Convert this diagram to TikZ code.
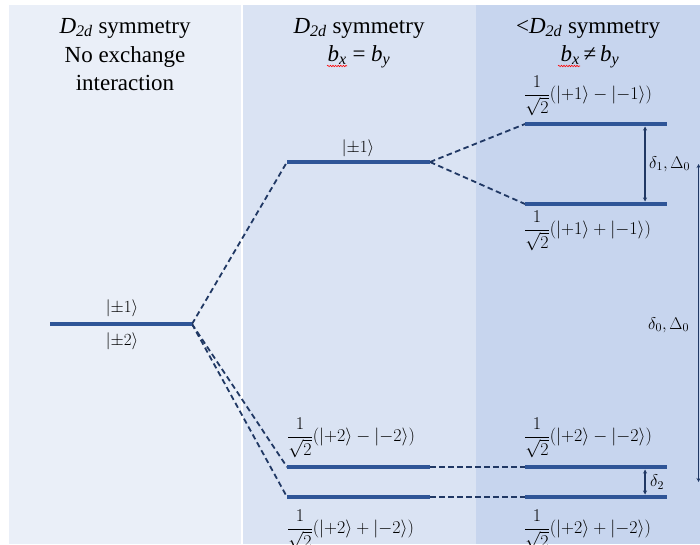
\RequirePackage{fix-cm}
\documentclass[tikz,border=0pt]{standalone}
\usepackage{amsmath}
\usepackage{fontspec}
\setmainfont{Liberation Serif}
\newfontfamily\hdfont{Liberation Serif}
\usetikzlibrary{arrows.meta,decorations.pathmorphing}
\definecolor{pA}{HTML}{EAEFF8}
\definecolor{pB}{HTML}{DAE3F3}
\definecolor{pC}{HTML}{C7D5EE}
\definecolor{lev}{HTML}{2F5597}
\definecolor{dsh}{HTML}{203864}
\newcommand\Dtd{\textit{D}\textsubscript{\textit{2d}}}
\newcommand\fr{\dfrac{1}{\sqrt{2}}}
\begin{document}
\begin{tikzpicture}[x=1pt,y=-1pt,
 level/.style={line width=4.5pt, draw=lev},
 conn/.style={draw=dsh, line width=1.8pt, dash pattern=on 5.5pt off 3.5pt},
 gap/.style={draw=dsh, line width=1.1pt, {Stealth[length=4pt,width=4pt]}-{Stealth[length=4pt,width=4pt]}},
 head/.style={font=\hdfont\fontsize{23}{28}\selectfont, inner sep=0pt, anchor=base},
 ket/.style={font=\fontsize{18}{21}\selectfont, inner sep=0pt, anchor=west},
 lab/.style={font=\fontsize{17}{20}\selectfont, inner sep=0pt},
 sq/.style={draw=red, line width=0.6pt, decorate, decoration={snake, amplitude=0.7pt, segment length=2.6pt}}]
\useasboundingbox (0,0) rectangle (700,544);
\fill[white] (0,0) rectangle (700,544);
\fill[pA] (9,5) rectangle (241,544);
\fill[pB] (243,5) rectangle (476,544);
\fill[pC] (476,5) rectangle (700,544);
% headers
\node[head] (h1a) at (125,33) {\Dtd\ symmetry};
\node[head] (h1b) at (125,62) {No exchange};
\node[head] (h1c) at (125,90) {interaction};
\node[head] (h2a) at (359,33) {\Dtd\ symmetry};
\node[head] (h2b) at (359,61) {\textit{b}\textsubscript{\textit{x}} = \textit{b}\textsubscript{\textit{y}}};
\node[head] (h3a) at (588,33) {<\Dtd\ symmetry};
\node[head] (h3b) at (590,61) {\textit{b}\textsubscript{\textit{x}}\,≠\,\textit{b}\textsubscript{\textit{y}}};
\draw[sq] (327,66) -- (347,66);
\draw[sq] (558,66) -- (580,66);
% level endpoints
\coordinate (a1) at (50,324); \coordinate (a2) at (192,324);
\coordinate (b1) at (287,162); \coordinate (b2) at (430,162);
\coordinate (c1) at (287,467); \coordinate (c2) at (430,467);
\coordinate (d1) at (287,497); \coordinate (d2) at (430,497);
\coordinate (e1) at (525,124); \coordinate (e2) at (667,124);
\coordinate (f1) at (525,204); \coordinate (f2) at (667,204);
\coordinate (g1) at (525,467); \coordinate (g2) at (667,467);
\coordinate (h1) at (525,497); \coordinate (h2) at (667,497);
% connectors
\draw[conn] (a2) -- (b1);
\draw[conn] (a2) -- (c1);
\draw[conn] (a2) -- (d1);
\draw[conn] (b2) -- (e1);
\draw[conn] (b2) -- (f1);
\draw[conn] (c2) -- (g1);
\draw[conn] (d2) -- (h1);
% levels
\foreach \p in {a,b,c,d,e,f,g,h} \draw[level] (\p1) -- (\p2);
% gaps
\coordinate (e3) at (645,124); \coordinate (f3) at (645,204);
\coordinate (g3) at (645,467); \coordinate (h3) at (645,497);
\draw[gap] ([yshift=-2.5pt]e3) -- ([yshift=2.5pt]f3);
\draw[gap] ([yshift=-2.5pt]g3) -- ([yshift=2.5pt]h3);
\coordinate (z1) at (698.5,164); \coordinate (z2) at (698.5,482);
\draw[gap] (z1) -- (z2);
\node[lab, anchor=west] (d1lab) at (649,164) {$\delta_1,\Delta_0$};
\node[lab, anchor=west] (d0lab) at (648,325) {$\delta_0,\Delta_0$};
\node[lab, anchor=west] (d2lab) at (650,482) {$\delta_2$};
% kets
\node[lab] (k1) at (122,308) {$|{\pm}1\rangle$};
\node[lab] (k2) at (122,341) {$|{\pm}2\rangle$};
\node[lab] (k3) at (358,148) {$|{\pm}1\rangle$};
\node[ket] (k4) at (524,96) {$\fr(|{+}1\rangle-|{-}1\rangle)$};
\node[ket] (k5) at (524,231) {$\fr(|{+}1\rangle+|{-}1\rangle)$};
\node[ket] (k6) at (287,438) {$\fr(|{+}2\rangle-|{-}2\rangle)$};
\node[ket] (k7) at (287,530) {$\fr(|{+}2\rangle+|{-}2\rangle)$};
\node[ket] (k8) at (524,438) {$\fr(|{+}2\rangle-|{-}2\rangle)$};
\node[ket] (k9) at (524,530) {$\fr(|{+}2\rangle+|{-}2\rangle)$};
\end{tikzpicture}
\end{document}
